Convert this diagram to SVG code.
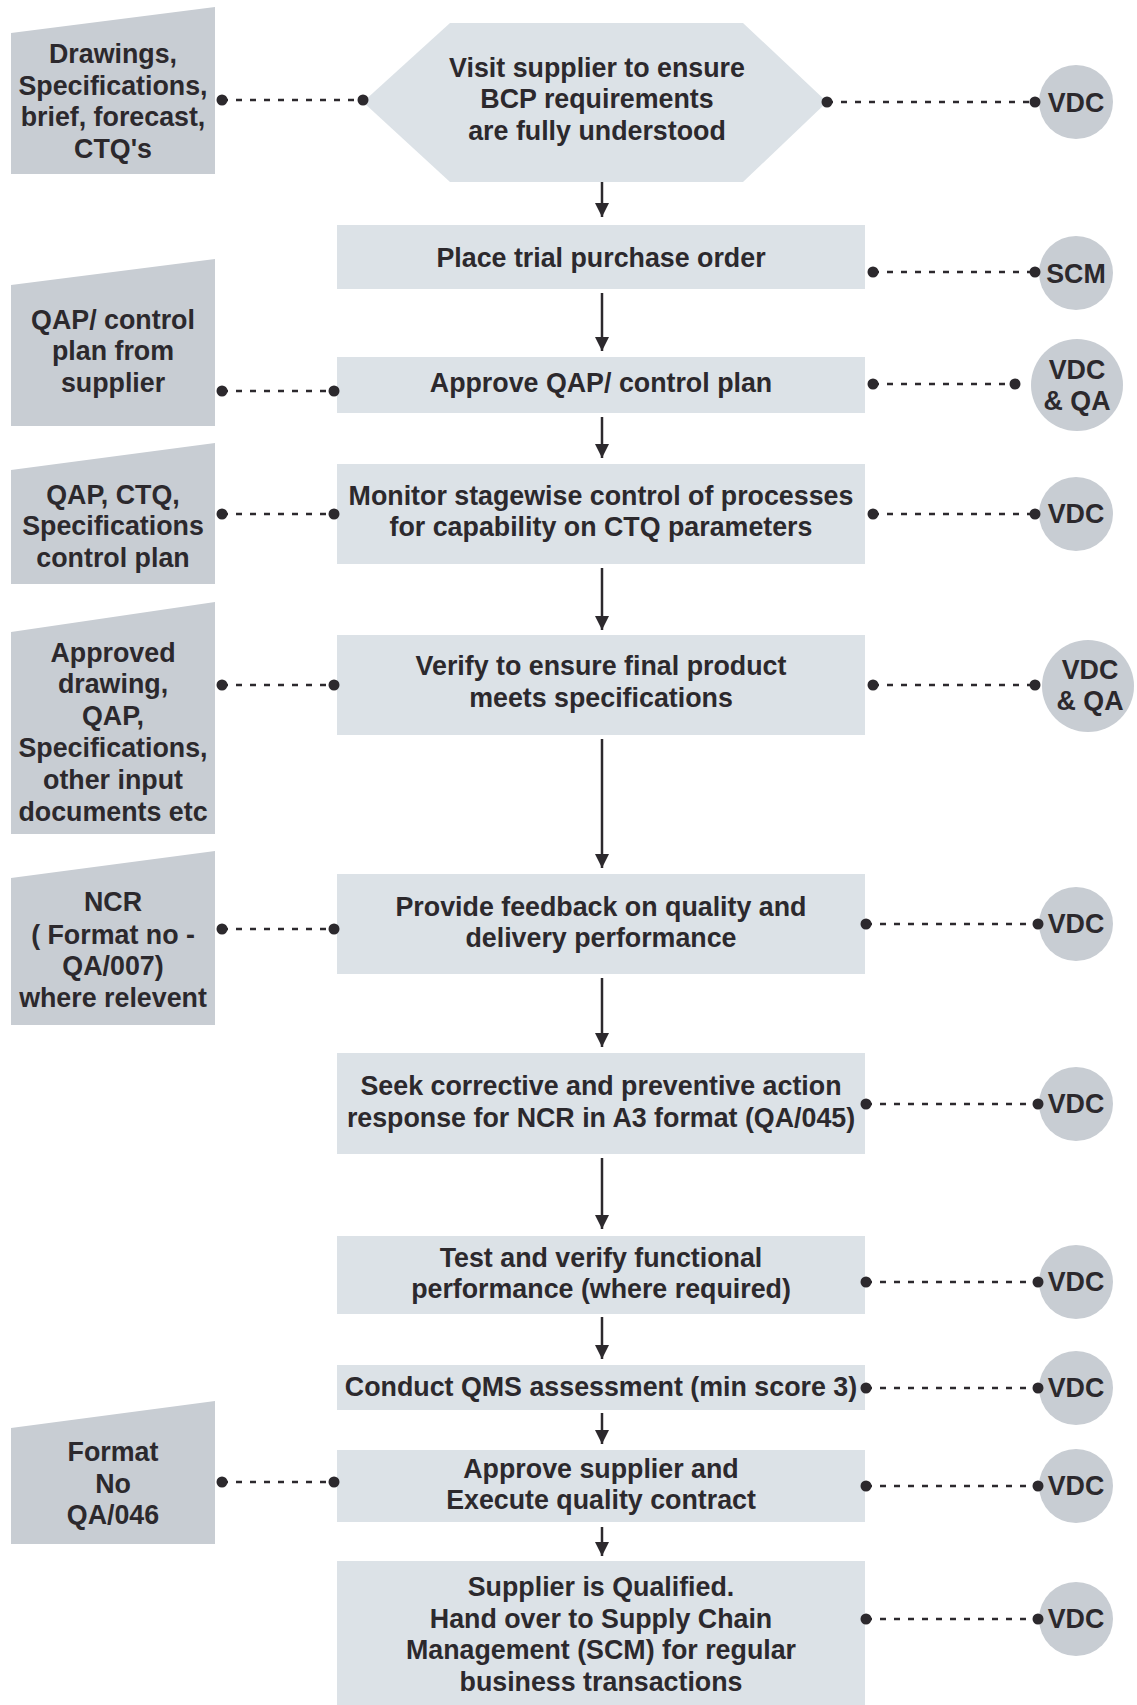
<svg xmlns="http://www.w3.org/2000/svg" width="1137" height="1705" viewBox="0 0 1137 1705">
  <defs>
    <style>
      .step { fill: #dce2e7; }
      .doc { fill: #c8cdd3; }
      .role { fill: #c8cdd3; }
      text { font-family: "Liberation Sans", Arial, Helvetica, sans-serif; font-weight: bold; font-size: 26.8px; fill: #2c292d; text-anchor: middle; }
      .flow { stroke: #2c292d; stroke-width: 2.5; fill: none; marker-end: url(#arrow); }
      .link { stroke: #2c292d; stroke-width: 2.5; fill: none; stroke-dasharray: 6 8; }
      .dot { fill: #2c292d; }
    </style>
    <marker id="arrow" markerUnits="userSpaceOnUse" markerWidth="14" markerHeight="14" viewBox="0 0 14 14" refX="14" refY="7" orient="auto">
      <path d="M0,0 L14,7 L0,14 z" fill="#2c292d"/>
    </marker>
  </defs>

  <rect width="1137" height="1705" fill="#ffffff"/>

  <!-- input documents (left column) -->
  <g id="doc-drawings">
    <polygon class="doc" points="11,33 215,7 215,174 11,174"/>
    <text x="113" y="63">Drawings,</text>
    <text x="113" y="94.5">Specifications,</text>
    <text x="113" y="126">brief, forecast,</text>
    <text x="113" y="157.5">CTQ's</text>
  </g>
  <g id="doc-qap">
    <polygon class="doc" points="11,285 215,259 215,426 11,426"/>
    <text x="113" y="329">QAP/ control</text>
    <text x="113" y="360">plan from</text>
    <text x="113" y="392">supplier</text>
  </g>
  <g id="doc-ctq">
    <polygon class="doc" points="11,470 215,443 215,584 11,584"/>
    <text x="113" y="504">QAP, CTQ,</text>
    <text x="113" y="535">Specifications</text>
    <text x="113" y="566.5">control plan</text>
  </g>
  <g id="doc-approved">
    <polygon class="doc" points="11,632 215,602 215,834 11,834"/>
    <text x="113" y="661.5">Approved</text>
    <text x="113" y="693">drawing,</text>
    <text x="113" y="725">QAP,</text>
    <text x="113" y="757">Specifications,</text>
    <text x="113" y="789">other input</text>
    <text x="113" y="820.5">documents etc</text>
  </g>
  <g id="doc-ncr">
    <polygon class="doc" points="11,878 215,851 215,1025 11,1025"/>
    <text x="113" y="911">NCR</text>
    <text x="113" y="943.5">( Format no -</text>
    <text x="113" y="975">QA/007)</text>
    <text x="113" y="1007">where relevent</text>
  </g>
  <g id="doc-format">
    <polygon class="doc" points="11,1428 215,1401 215,1544 11,1544"/>
    <text x="113" y="1461">Format</text>
    <text x="113" y="1493">No</text>
    <text x="113" y="1524">QA/046</text>
  </g>

  <!-- process steps (centre column) -->
  <g id="step-visit">
    <polygon class="step" points="363,102 450,23 743,23 827,102 743,182 450,182"/>
    <text x="597" y="76.5">Visit supplier to ensure</text>
    <text x="597" y="108">BCP requirements</text>
    <text x="597" y="140">are fully understood</text>
  </g>
  <g id="step-trial-order">
    <rect class="step" x="337" y="225" width="528" height="64"/>
    <text x="601" y="266.5">Place trial purchase order</text>
  </g>
  <g id="step-approve-qap">
    <rect class="step" x="337" y="357" width="528" height="56"/>
    <text x="601" y="391.5">Approve QAP/ control plan</text>
  </g>
  <g id="step-monitor">
    <rect class="step" x="337" y="464" width="528" height="100"/>
    <text x="601" y="505">Monitor stagewise control of processes</text>
    <text x="601" y="536">for capability on CTQ parameters</text>
  </g>
  <g id="step-verify">
    <rect class="step" x="337" y="635" width="528" height="100"/>
    <text x="601" y="675">Verify to ensure final product</text>
    <text x="601" y="707">meets specifications</text>
  </g>
  <g id="step-feedback">
    <rect class="step" x="337" y="874" width="528" height="100"/>
    <text x="601" y="915.5">Provide feedback on quality and</text>
    <text x="601" y="947">delivery performance</text>
  </g>
  <g id="step-capa">
    <rect class="step" x="337" y="1053" width="528" height="101"/>
    <text x="601" y="1095">Seek corrective and preventive action</text>
    <text x="601" y="1127">response for NCR in A3 format (QA/045)</text>
  </g>
  <g id="step-test">
    <rect class="step" x="337" y="1236" width="528" height="78"/>
    <text x="601" y="1266.5">Test and verify functional</text>
    <text x="601" y="1298">performance (where required)</text>
  </g>
  <g id="step-qms">
    <rect class="step" x="337" y="1365" width="528" height="45"/>
    <text x="601" y="1396">Conduct QMS assessment (min score 3)</text>
  </g>
  <g id="step-approve-supplier">
    <rect class="step" x="337" y="1450" width="528" height="72"/>
    <text x="601" y="1477.5">Approve supplier and</text>
    <text x="601" y="1509">Execute quality contract</text>
  </g>
  <g id="step-qualified">
    <rect class="step" x="337" y="1561" width="528" height="144"/>
    <text x="601" y="1596">Supplier is Qualified.</text>
    <text x="601" y="1627.5">Hand over to Supply Chain</text>
    <text x="601" y="1659">Management (SCM) for regular</text>
    <text x="601" y="1690.5">business transactions</text>
  </g>

  <!-- responsibilities (right column) -->
  <g id="role-visit">
    <circle class="role" cx="1076" cy="102" r="37"/>
    <text x="1076" y="111.5">VDC</text>
  </g>
  <g id="role-trial-order">
    <circle class="role" cx="1076" cy="273" r="37"/>
    <text x="1076" y="282.5">SCM</text>
  </g>
  <g id="role-approve-qap">
    <circle class="role" cx="1077" cy="385" r="46"/>
    <text x="1077" y="378.5">VDC</text>
    <text x="1077" y="410">&amp; QA</text>
  </g>
  <g id="role-monitor">
    <circle class="role" cx="1076" cy="514" r="37"/>
    <text x="1076" y="523">VDC</text>
  </g>
  <g id="role-verify">
    <circle class="role" cx="1088" cy="686" r="46"/>
    <text x="1090" y="678.5">VDC</text>
    <text x="1090" y="710">&amp; QA</text>
  </g>
  <g id="role-feedback">
    <circle class="role" cx="1076" cy="924" r="37"/>
    <text x="1076" y="933">VDC</text>
  </g>
  <g id="role-capa">
    <circle class="role" cx="1076" cy="1104" r="37"/>
    <text x="1076" y="1113">VDC</text>
  </g>
  <g id="role-test">
    <circle class="role" cx="1076" cy="1282" r="37"/>
    <text x="1076" y="1291">VDC</text>
  </g>
  <g id="role-qms">
    <circle class="role" cx="1076" cy="1388" r="37"/>
    <text x="1076" y="1397">VDC</text>
  </g>
  <g id="role-approve-supplier">
    <circle class="role" cx="1076" cy="1486" r="37"/>
    <text x="1076" y="1495">VDC</text>
  </g>
  <g id="role-qualified">
    <circle class="role" cx="1076" cy="1619" r="37"/>
    <text x="1076" y="1628">VDC</text>
  </g>

  <!-- connectors -->
  <g id="connectors">
    <!-- main flow -->
    <line class="flow" x1="602" y1="182" x2="602" y2="217"/>
    <line class="flow" x1="602" y1="293" x2="602" y2="351"/>
    <line class="flow" x1="602" y1="417" x2="602" y2="458"/>
    <line class="flow" x1="602" y1="568" x2="602" y2="630"/>
    <line class="flow" x1="602" y1="739" x2="602" y2="868"/>
    <line class="flow" x1="602" y1="978" x2="602" y2="1047"/>
    <line class="flow" x1="602" y1="1158" x2="602" y2="1229"/>
    <line class="flow" x1="602" y1="1317" x2="602" y2="1359"/>
    <line class="flow" x1="602" y1="1413" x2="602" y2="1444"/>
    <line class="flow" x1="602" y1="1527" x2="602" y2="1556"/>

    <!-- document links -->
    <line class="link" x1="222" y1="100" x2="363" y2="100"/>
    <circle class="dot" cx="222" cy="100" r="5.5"/><circle class="dot" cx="363" cy="100" r="5.5"/>
    <line class="link" x1="222" y1="391" x2="334" y2="391"/>
    <circle class="dot" cx="222" cy="391" r="5.5"/><circle class="dot" cx="334" cy="391" r="5.5"/>
    <line class="link" x1="222" y1="514" x2="334" y2="514"/>
    <circle class="dot" cx="222" cy="514" r="5.5"/><circle class="dot" cx="334" cy="514" r="5.5"/>
    <line class="link" x1="222" y1="685" x2="334" y2="685"/>
    <circle class="dot" cx="222" cy="685" r="5.5"/><circle class="dot" cx="334" cy="685" r="5.5"/>
    <line class="link" x1="222" y1="929" x2="334" y2="929"/>
    <circle class="dot" cx="222" cy="929" r="5.5"/><circle class="dot" cx="334" cy="929" r="5.5"/>
    <line class="link" x1="222" y1="1482" x2="334" y2="1482"/>
    <circle class="dot" cx="222" cy="1482" r="5.5"/><circle class="dot" cx="334" cy="1482" r="5.5"/>

    <!-- responsibility links -->
    <line class="link" x1="827" y1="102" x2="1035" y2="102"/>
    <circle class="dot" cx="827" cy="102" r="5.5"/><circle class="dot" cx="1035" cy="102" r="5.5"/>
    <line class="link" x1="873" y1="272" x2="1035" y2="272"/>
    <circle class="dot" cx="873" cy="272" r="5.5"/><circle class="dot" cx="1035" cy="272" r="5.5"/>
    <line class="link" x1="873" y1="384" x2="1015" y2="384"/>
    <circle class="dot" cx="873" cy="384" r="5.5"/><circle class="dot" cx="1015" cy="384" r="5.5"/>
    <line class="link" x1="873" y1="514" x2="1035" y2="514"/>
    <circle class="dot" cx="873" cy="514" r="5.5"/><circle class="dot" cx="1035" cy="514" r="5.5"/>
    <line class="link" x1="873" y1="685" x2="1035" y2="685"/>
    <circle class="dot" cx="873" cy="685" r="5.5"/><circle class="dot" cx="1035" cy="685" r="5.5"/>
    <line class="link" x1="866" y1="924" x2="1038" y2="924"/>
    <circle class="dot" cx="866" cy="924" r="5.5"/><circle class="dot" cx="1038" cy="924" r="5.5"/>
    <line class="link" x1="866" y1="1104" x2="1038" y2="1104"/>
    <circle class="dot" cx="866" cy="1104" r="5.5"/><circle class="dot" cx="1038" cy="1104" r="5.5"/>
    <line class="link" x1="866" y1="1282" x2="1038" y2="1282"/>
    <circle class="dot" cx="866" cy="1282" r="5.5"/><circle class="dot" cx="1038" cy="1282" r="5.5"/>
    <line class="link" x1="866" y1="1388" x2="1038" y2="1388"/>
    <circle class="dot" cx="866" cy="1388" r="5.5"/><circle class="dot" cx="1038" cy="1388" r="5.5"/>
    <line class="link" x1="866" y1="1486" x2="1038" y2="1486"/>
    <circle class="dot" cx="866" cy="1486" r="5.5"/><circle class="dot" cx="1038" cy="1486" r="5.5"/>
    <line class="link" x1="866" y1="1619" x2="1038" y2="1619"/>
    <circle class="dot" cx="866" cy="1619" r="5.5"/><circle class="dot" cx="1038" cy="1619" r="5.5"/>
  </g>
</svg>
